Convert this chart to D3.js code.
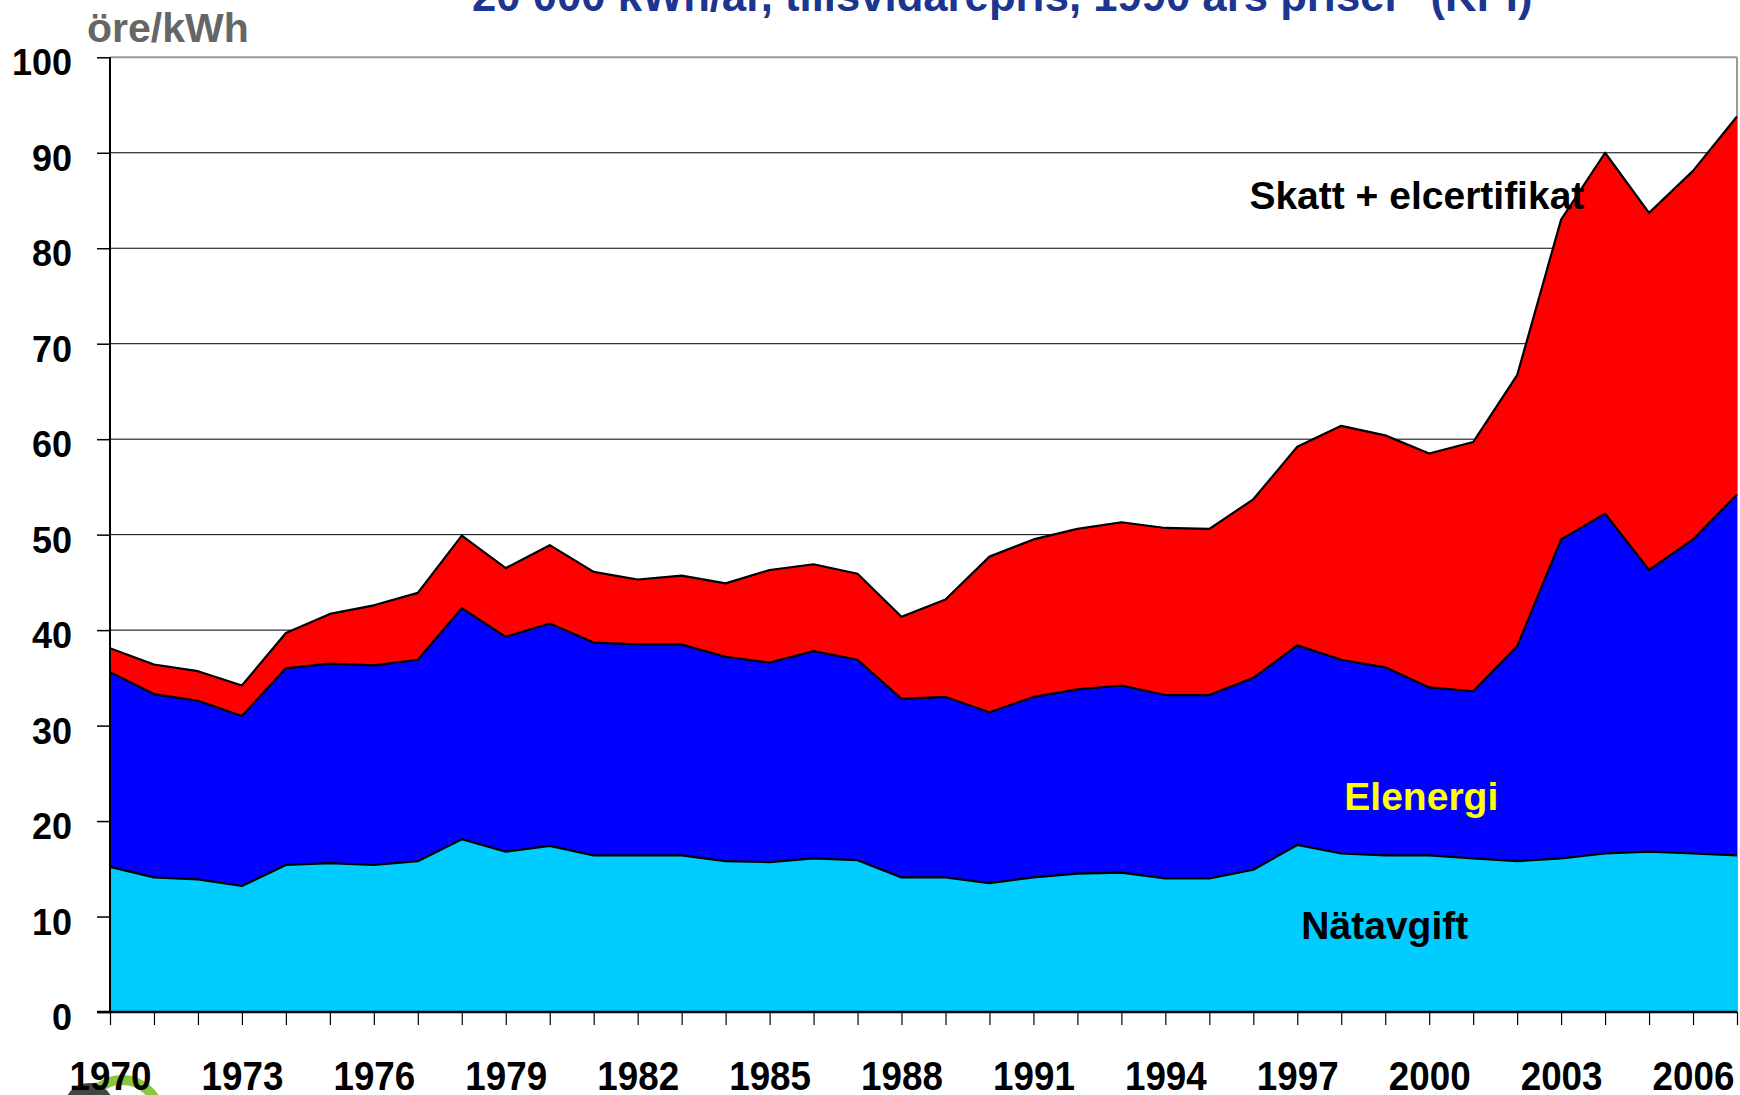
<!DOCTYPE html>
<html>
<head>
<meta charset="utf-8">
<script src="https://cdn.jsdelivr.net/npm/d3@7"></script>
<style>
  html, body { margin: 0; padding: 0; background: #ffffff; }
  svg { display: block; }
  text { font-family: "Liberation Sans", Arial, sans-serif; font-weight: bold; }
</style>
</head>
<body>
<svg id="chart" width="1740" height="1095"></svg>
<script>
// ---------- data ----------
const years = [1970,1971,1972,1973,1974,1975,1976,1977,1978,1979,
               1980,1981,1982,1983,1984,1985,1986,1987,1988,1989,
               1990,1991,1992,1993,1994,1995,1996,1997,1998,1999,
               2000,2001,2002,2003,2004,2005,2006,2007];

const natavgift = [15.2,14.1,13.9,13.2,15.4,15.6,15.4,15.8,18.1,16.8,
                   17.4,16.4,16.4,16.4,15.8,15.7,16.1,15.9,14.1,14.1,
                   13.5,14.1,14.5,14.6,14.0,14.0,14.9,17.5,16.6,16.4,
                   16.4,16.1,15.8,16.1,16.6,16.8,16.6,16.4];

const elenergi = [20.4,19.2,18.7,17.8,20.6,20.9,20.9,21.1,24.2,22.5,
                  23.3,22.3,22.1,22.1,21.4,20.9,21.7,21.0,18.7,18.9,
                  17.9,18.9,19.3,19.6,19.2,19.2,20.1,20.9,20.3,19.7,
                  17.6,17.5,22.5,33.4,35.6,29.5,32.9,37.8];

const skatt = [2.5,3.1,3.1,3.2,3.7,5.2,6.3,7.0,7.6,7.2,
               8.2,7.4,6.8,7.2,7.7,9.7,9.1,9.0,8.6,10.2,
               16.3,16.5,16.8,17.1,17.5,17.4,18.7,20.8,24.5,24.3,
               24.5,26.1,28.4,33.5,37.8,37.4,38.6,39.6];

const seriesKeys = ["natavgift", "elenergi", "skatt"];
const seriesNames = ["Nätavgift", "Elenergi", "Skatt + elcertifikat"];
const seriesColors = ["#00ccff", "#0000ff", "#ff0000"];
const yTicks = [0,10,20,30,40,50,60,70,80,90,100];
const xLabelYears = [1970,1973,1976,1979,1982,1985,1988,1991,1994,1997,2000,2003,2006];
const unitLabel = "öre/kWh";
const titleText = "20 000 kWh/år, tillsvidarepris, 1990 års priser* (KPI)";

// ---------- build ----------
(function () {
const svg = d3.select("#chart");
const W = 1740, H = 1095;
svg.append("rect").attr("width", W).attr("height", H).attr("fill", "#fff");

const pLeft = 110, pRight = 1737, pTop = 57.3, pBottom = 1012;
const x = d3.scaleLinear().domain([years[0], years[years.length - 1]]).range([pLeft, pRight]);
const y = d3.scaleLinear().domain([0, 100]).range([pBottom, pTop]);

const table = years.map((yr, i) => ({ year: yr, natavgift: natavgift[i], elenergi: elenergi[i], skatt: skatt[i] }));
const stacked = d3.stack().keys(seriesKeys)(table);

// logo (partially visible, bottom-left)
const logo = svg.append("g");
logo.append("circle").attr("cx", 122).attr("cy", 1118).attr("r", 38)
  .attr("fill", "none").attr("stroke", "#8cc63f").attr("stroke-width", 10);
logo.append("circle").attr("cx", 89).attr("cy", 1108).attr("r", 25).attr("fill", "#444");

// gridlines
svg.append("g").selectAll("line").data(yTicks.filter(v => v > 0)).join("line")
  .attr("x1", pLeft).attr("x2", pRight)
  .attr("y1", d => y(d)).attr("y2", d => y(d))
  .attr("stroke", d => d === 100 ? "#9a9a9a" : "#000")
  .attr("stroke-width", d => d === 100 ? 2 : 1);
// right border
svg.append("line").attr("x1", pRight).attr("x2", pRight).attr("y1", y(100)).attr("y2", y(0))
  .attr("stroke", "#9a9a9a").attr("stroke-width", 2);

// areas
const area = d3.area().x(d => x(d.data.year)).y0(d => y(d[0])).y1(d => y(d[1]));
svg.append("g").selectAll("path").data(stacked).join("path")
  .attr("d", area).attr("fill", (d, i) => seriesColors[i]);

// outlines
const line = d3.line().x(d => x(d.data.year)).y(d => y(d[1]));
svg.append("g").selectAll("path").data(stacked).join("path")
  .attr("d", line).attr("fill", "none").attr("stroke", "#000")
  .attr("stroke-width", 2.2).attr("stroke-linejoin", "round");

// y axis
const yAxis = svg.append("g").attr("transform", `translate(${pLeft},0)`)
  .call(d3.axisLeft(y).tickValues(yTicks).tickSize(13).tickPadding(25).tickFormat(d3.format("d")));
yAxis.select(".domain").attr("stroke", "#000").attr("stroke-width", 2).attr("d", `M0,${y(100)}V${y(0)}`);
yAxis.selectAll(".tick line").attr("stroke", "#000").attr("stroke-width", 1.5);
yAxis.selectAll(".tick text").attr("font-size", 36).attr("font-weight", "bold")
  .attr("font-family", "Liberation Sans, Arial, sans-serif").attr("fill", "#000").attr("dy", "0.49em");

// x axis
const xAxis = svg.append("g").attr("transform", `translate(0,${pBottom})`)
  .call(d3.axisBottom(x).tickValues(years).tickSize(13)
    .tickFormat(d => xLabelYears.includes(d) ? String(d) : ""));
xAxis.select(".domain").attr("stroke", "#000").attr("stroke-width", 2.5).attr("d", `M${pLeft - 13},0H${pRight}`);
xAxis.selectAll(".tick line").attr("stroke", "#000").attr("stroke-width", 1.2);
xAxis.selectAll(".tick text").attr("font-size", 40).attr("font-weight", "bold")
  .attr("font-family", "Liberation Sans, Arial, sans-serif").attr("fill", "#000")
  .attr("y", 78).attr("dy", 0).attr("transform", "scale(0.92,1)");

// unit label
svg.append("text").attr("x", 87).attr("y", 41.5).attr("font-size", 41)
  .attr("fill", "#666").text(unitLabel);

// title (cut at top)
const title = svg.append("text").attr("x", 472).attr("y", 10.5).attr("font-size", 41)
  .attr("fill", "#1b3591").text(titleText);
const tw = title.node().getComputedTextLength();
title.attr("font-size", 41 * 1061 / tw);

// series labels
const labelPos = [
  { year: 1998.99, value: 7.6, color: "#000" },
  { year: 1999.82, value: 21.2, color: "#ffff00" },
  { year: 1999.72, value: 84.1, color: "#000" }
];
svg.append("g").selectAll("text").data(labelPos).join("text")
  .attr("x", d => x(d.year)).attr("y", d => y(d.value))
  .attr("text-anchor", "middle").attr("font-size", 39)
  .attr("fill", d => d.color).text((d, i) => seriesNames[i]);
})();
</script>
</body>
</html>
